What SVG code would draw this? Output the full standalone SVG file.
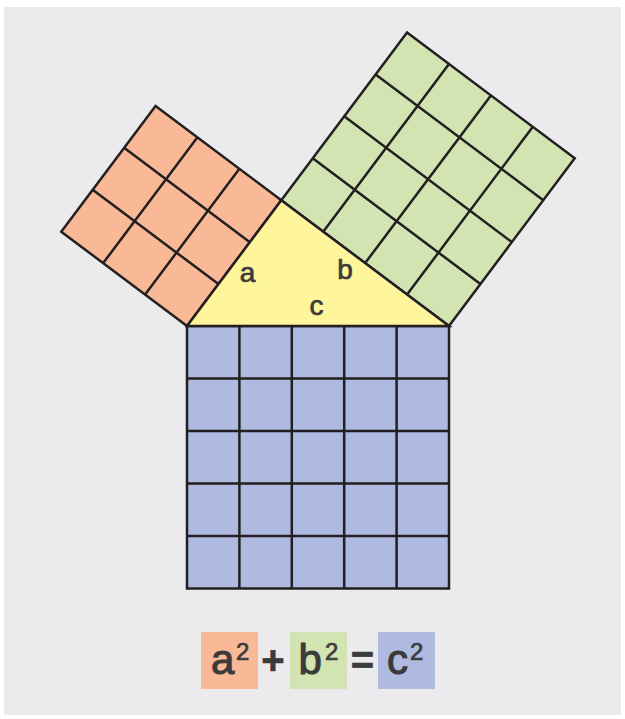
<svg xmlns="http://www.w3.org/2000/svg" width="625" height="719" viewBox="0 0 625 719">
  <style>
    .sq { stroke: #231f20; stroke-width: 2.5; stroke-linejoin: miter; }
    .grid { stroke: #231f20; stroke-width: 2.5; fill: none; }
    .lbl { font-family: "Liberation Sans", Arial, sans-serif; fill: #3b3b3b; stroke: #3b3b3b; stroke-width: 0.7; }
    .big { stroke-width: 1.1; }
  </style>
  <rect x="4" y="7" width="617" height="708" fill="#ebebee"/>

  <g id="square-a" transform="matrix(0.6,-0.8,-0.8,-0.6,187,326)">
    <rect class="sq" x="0" y="0" width="157.2" height="157.2" fill="#f9b996"/>
    <path class="grid" d="M52.4 0V157.2M104.8 0V157.2M0 52.4H157.2M0 104.8H157.2"/>
  </g>

  <g id="square-b" transform="matrix(0.8,0.6,0.6,-0.8,281.3,200.2)">
    <rect class="sq" x="0" y="0" width="209.6" height="209.6" fill="#d2e4b1"/>
    <path class="grid" d="M52.4 0V209.6M104.8 0V209.6M157.2 0V209.6M0 52.4H209.6M0 104.8H209.6M0 157.2H209.6"/>
  </g>

  <g id="square-c">
    <rect class="sq" x="187" y="326" width="262" height="262.5" fill="#aebadf"/>
    <path class="grid" d="M239.4 326V588.5M291.8 326V588.5M344.2 326V588.5M396.6 326V588.5M187 378.5H449M187 431H449M187 483.5H449M187 536H449"/>
  </g>

  <g id="triangle">
    <polygon class="sq" points="187,326 281.3,200.2 449,326" fill="#fff59b"/>
    <text class="lbl" x="247.5" y="282" font-size="28" text-anchor="middle">a</text>
    <text class="lbl" x="345" y="279" font-size="28" text-anchor="middle">b</text>
    <text class="lbl" x="316.5" y="315" font-size="28" text-anchor="middle">c</text>
  </g>

  <g id="formula">
    <rect x="201" y="632" width="57" height="57" fill="#f9b996"/>
    <rect x="290" y="632" width="57" height="57" fill="#d2e4b1"/>
    <rect x="378" y="632" width="57" height="57" fill="#aebadf"/>
    <text class="lbl big" x="211" y="674" font-size="42">a</text>
    <text class="lbl" x="236" y="660" font-size="24">2</text>
    <text class="lbl" x="273" y="674" font-size="40" font-weight="bold" text-anchor="middle">+</text>
    <text class="lbl big" x="298.5" y="674" font-size="42">b</text>
    <text class="lbl" x="325" y="660" font-size="24">2</text>
    <text class="lbl" x="362.5" y="674" font-size="40" font-weight="bold" text-anchor="middle">=</text>
    <text class="lbl big" x="387" y="674" font-size="42">c</text>
    <text class="lbl" x="410" y="660" font-size="24">2</text>
  </g>
</svg>
